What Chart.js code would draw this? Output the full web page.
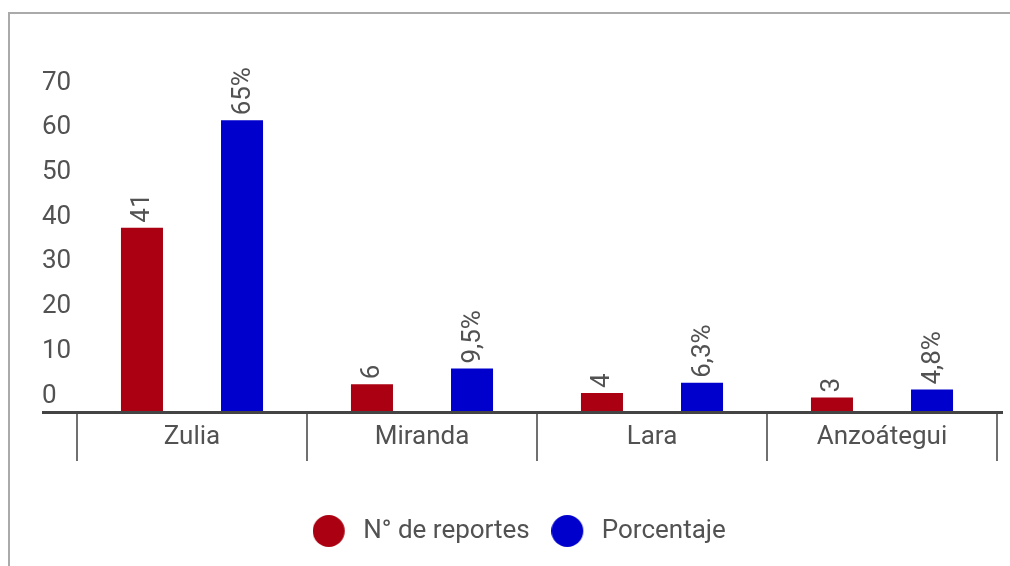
<!DOCTYPE html>
<html>
<head>
<meta charset="utf-8">
<script src="https://cdn.jsdelivr.net/npm/chart.js@4.4.1/dist/chart.umd.min.js"></script>
<style>
  html, body { margin: 0; padding: 0; background: #fff; }
  #wrap { position: relative; width: 1010px; height: 566px; overflow: hidden; }
  #frame { position: absolute; left: 8px; top: 12px; width: 1100px; height: 700px;
           border-left: 2px solid #aaa; border-top: 2px solid #aaa; }
  canvas { position: absolute; left: 0; top: 0; }
</style>
</head>
<body>
<div id="wrap">
  <div id="frame"></div>
  <canvas id="c" width="1010" height="566"></canvas>
</div>
<script>
const categories = ['Zulia', 'Miranda', 'Lara', 'Anzoátegui'];
const reportes = [41, 6, 4, 3];
const porcentaje = [65, 9.5, 6.3, 4.8];
const reportesLabels = ['41', '6', '4', '3'];
const porcentajeLabels = ['65%', '9,5%', '6,3%', '4,8%'];
const seriesNames = ['N° de reportes', 'Porcentaje'];
const seriesColors = ['#aa0011', '#0000cc'];
const yTicks = [0, 10, 20, 30, 40, 50, 60, 70];

const FONT = 'Roboto';
const FS = 26;
const TEXT = '#525252';

function dot(color) {
  const c = document.createElement('canvas');
  c.width = 38; c.height = 32;
  const g = c.getContext('2d');
  g.fillStyle = color;
  g.beginPath();
  g.arc(16, 16, 16, 0, Math.PI * 2);
  g.fill();
  return c;
}
const dots = seriesColors.map(dot);

const barLabels = {
  id: 'barLabels',
  afterDatasetsDraw(chart) {
    const ctx = chart.ctx;
    const all = [reportesLabels, porcentajeLabels];
    ctx.save();
    ctx.font = FS + 'px ' + FONT;
    ctx.fillStyle = TEXT;
    chart.data.datasets.forEach((ds, i) => {
      chart.getDatasetMeta(i).data.forEach((bar, j) => {
        ctx.save();
        ctx.translate(bar.x, bar.y - 5);
        ctx.rotate(-Math.PI / 2);
        ctx.textAlign = 'left';
        ctx.textBaseline = 'middle';
        ctx.fillText(all[i][j], 0, 1);
        ctx.restore();
      });
    });
    ctx.restore();
  }
};

const axisDecor = {
  id: 'axisDecor',
  afterDraw(chart) {
    const ctx = chart.ctx;
    const xs = chart.scales.x;
    const y0 = chart.scales.y.getPixelForValue(0);
    ctx.save();
    ctx.strokeStyle = '#444';
    ctx.lineWidth = 3;
    ctx.beginPath();
    ctx.moveTo(42, y0 + 1.5);
    ctx.lineTo(1003, y0 + 1.5);
    ctx.stroke();
    ctx.font = FS + 'px ' + FONT;
    ctx.fillStyle = TEXT;
    ctx.textAlign = 'center';
    ctx.textBaseline = 'middle';
    chart.data.labels.forEach((lab, i) => {
      ctx.fillText(lab, xs.getPixelForValue(i), y0 + 26);
    });
    ctx.restore();
  }
};

new Chart(document.getElementById('c'), {
  type: 'bar',
  data: {
    labels: categories,
    datasets: [
      { label: seriesNames[0], data: reportes, backgroundColor: seriesColors[0], borderWidth: 0 },
      { label: seriesNames[1], data: porcentaje, backgroundColor: seriesColors[1], borderWidth: 0 }
    ]
  },
  options: {
    responsive: false,
    animation: false,
    events: [],
    categoryPercentage: 0.87,
    barPercentage: 0.42,
    layout: { padding: { left: 42, right: 13, top: 98, bottom: 12 } },
    scales: {
      x: {
        afterFit(s) { s.height = 85; },
        grid: { offset: true, drawOnChartArea: false, drawTicks: true, tickLength: 50, color: '#707070', lineWidth: 2 },
        border: { display: false },
        ticks: { display: false }
      },
      y: {
        min: 0, max: 70,
        afterFit(s) { s.width = 35; },
        afterBuildTicks(s) { s.ticks = yTicks.map(v => ({ value: v })); },
        grid: { display: false },
        border: { display: false },
        ticks: { crossAlign: 'far', labelOffset: -15, padding: 0, color: TEXT, font: { family: FONT, size: FS } }
      }
    },
    plugins: {
      tooltip: { enabled: false },
      legend: {
        position: 'bottom',
        labels: {
          usePointStyle: true,
          pointStyleWidth: 37,
          boxHeight: 23,
          padding: 22,
          color: TEXT,
          font: { family: FONT, size: FS },
          generateLabels(chart) {
            const items = Chart.defaults.plugins.legend.labels.generateLabels(chart);
            items.forEach((it, i) => { it.pointStyle = dots[i]; });
            return items;
          }
        }
      }
    }
  },
  plugins: [barLabels, axisDecor]
});
</script>
</body>
</html>
